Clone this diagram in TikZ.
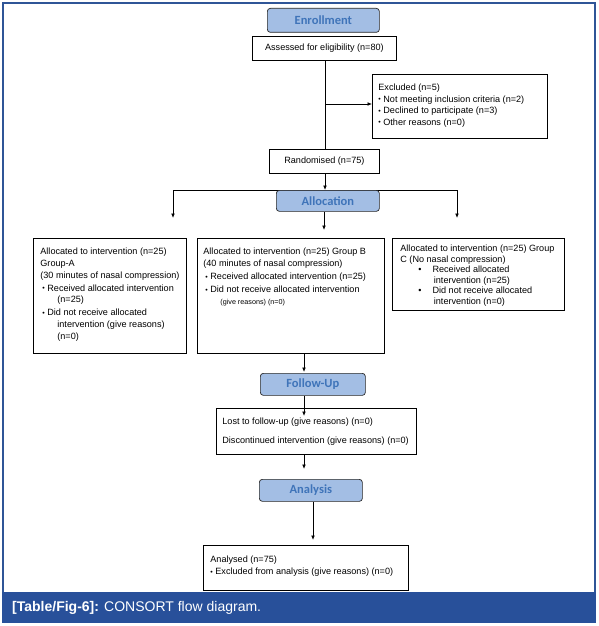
\documentclass[tikz,border=0pt]{standalone}
\usepackage{fontspec}
\setmainfont{Liberation Sans}
\newfontfamily\hdfont{Carlito}
\usetikzlibrary{arrows.meta}
\definecolor{hdfill}{HTML}{A3BEE4}
\definecolor{hdtext}{HTML}{3F74B9}
\definecolor{capblue}{HTML}{28509A}
\definecolor{frameblue}{HTML}{2F5597}
\newcommand\bul{\raisebox{0.3pt}{\fontsize{7}{7}\selectfont\textbullet}}
\newcommand\bigbul{{\fontsize{9}{9}\selectfont\textbullet}}
\newcommand\tb[4]{\parbox[c][#2pt][t]{#1pt}{\vspace*{#3pt}\raggedright #4}}
\tikzset{
  box/.style={draw=black, line width=0.8pt, fill=white, inner sep=0pt, anchor=north west,
    font=\fontsize{9.1}{11.6}\selectfont},
  hdr/.style={draw=black!85, line width=0.7pt, fill=hdfill, rounded corners=3pt, inner sep=0pt,
    anchor=north west, text=hdtext, font=\hdfont\bfseries\fontsize{12.5}{14}\selectfont},
  arr/.style={-{Latex[length=4.5pt,width=3.8pt]}, line width=0.8pt},
  ln/.style={line width=0.8pt}
}
\begin{document}
\begin{tikzpicture}[x=1pt,y=-1pt]
\useasboundingbox (0,0) rectangle (598,626);
\draw[frameblue, line width=1.2pt] (3,3) rectangle (595,593);
\fill[capblue] (2.4,592) rectangle (595.6,622.5);
\node[anchor=west, text=white, font=\fontsize{14}{16}\selectfont, inner sep=0pt] (cap) at (12,607.5)
  {\textbf{[Table/Fig-6]:} CONSORT flow diagram.};

% headers
\node[hdr] (enr) at (267,8) {\parbox[c][24pt][c]{112pt}{\centering Enrollment}};
\node[hdr] (fu) at (260,373) {\parbox[c][22pt][c]{105pt}{\centering Follow-Up}};
\node[hdr] (ana) at (259,479) {\parbox[c][22pt][c]{103pt}{\centering Analysis}};

% boxes
\node[box] (assess) at (252,36) {\parbox[c][24pt][c]{144pt}{\centering Assessed for eligibility (n=80)}};
\node[box] (excl) at (372,74) {\hspace*{6pt}\tb{169}{64}{9.5}{%
  Excluded (n=5)\\
  \bul\ Not meeting inclusion criteria (n=2)\\
  \bul\ Declined to participate (n=3)\\
  \bul\ Other reasons (n=0)}};
\node[box] (rand) at (269,149) {\parbox[c][24pt][c]{110pt}{\centering Randomised (n=75)}};

\node[box] (ga) at (33,238) {\hspace*{7pt}\tb{146}{115}{10}{%
  Allocated to intervention (n=25)\\
  Group-A\\
  (30 minutes of nasal compression)\\[1.5pt]
  \hspace*{2pt}\bul\ Received allocated intervention\\
  \hspace*{17pt}(n=25)\\[1.5pt]
  \hspace*{2pt}\bul\ Did not receive allocated\\
  \hspace*{17pt}intervention (give reasons)\\
  \hspace*{17pt}(n=0)}};
\node[box] (gb) at (197,238) {\hspace*{6pt}\tb{181}{115}{10}{%
  Allocated to intervention (n=25) Group B\\
  (40 minutes of nasal compression)\\[1.5pt]
  \hspace*{2pt}\bul\ Received allocated intervention (n=25)\\[1.5pt]
  \hspace*{2pt}\bul\ Did not receive allocated intervention\\
  \hspace*{17pt}{\fontsize{7.2}{8}\selectfont (give reasons) (n=0)}}};
\node[box] (gc) at (392,238) {\hspace*{8pt}\tb{164}{72}{6.5}{\fontsize{9.1}{10.6}\selectfont
  Allocated to intervention (n=25) Group\\
  C (No nasal compression)\\
  \hspace*{18pt}\bigbul\hspace*{11pt}Received allocated\\
  \hspace*{33.5pt}intervention (n=25)\\
  \hspace*{18pt}\bigbul\hspace*{11pt}Did not receive allocated\\
  \hspace*{33.5pt}intervention (n=0)}};

\node[box] (lost) at (216,408) {\hspace*{6pt}\tb{194}{46}{10}{%
  Lost to follow-up (give reasons) (n=0)\\[7pt]
  Discontinued intervention (give reasons) (n=0)}};
\node[box] (anl) at (203,545) {\hspace*{7pt}\tb{198}{45}{10}{%
  Analysed (n=75)\\[1pt]
  \bul\ Excluded from analysis (give reasons) (n=0)}};

% connectors
\coordinate (jx) at (325,104);
\draw[ln] (assess.south -| jx) -- (rand.north -| jx);
\draw[arr] (jx) -- (excl.west |- jx);

\coordinate (hl) at (173,190);
\coordinate (hr) at (457,190);
\coordinate (ta) at (173,218);
\coordinate (tc) at (457,218);
\coordinate (mid) at (325,190);
\draw[arr] (rand.south -| mid) -- (mid);
\draw[ln] (hl) -- (hr);
\draw[arr] (hl) -- (ta);
\draw[arr] (hr) -- (tc);
\node[hdr] (alloc) at (276,190) {\parbox[c][21pt][c]{103pt}{\centering Allocation}};
\coordinate (tb) at (324,230);
\draw[arr] (alloc.south -| tb) -- (tb);

\coordinate (f1) at (304,372);
\draw[arr] (gb.south -| f1) -- (f1);
\coordinate (f2) at (304,416);
\draw[arr] (fu.south -| f2) -- (f2);
\coordinate (f3) at (304,469);
\draw[arr] (lost.south -| f3) -- (f3);
\coordinate (f4) at (313,540);
\draw[arr] (ana.south -| f4) -- (f4);
\end{tikzpicture}
\end{document}
